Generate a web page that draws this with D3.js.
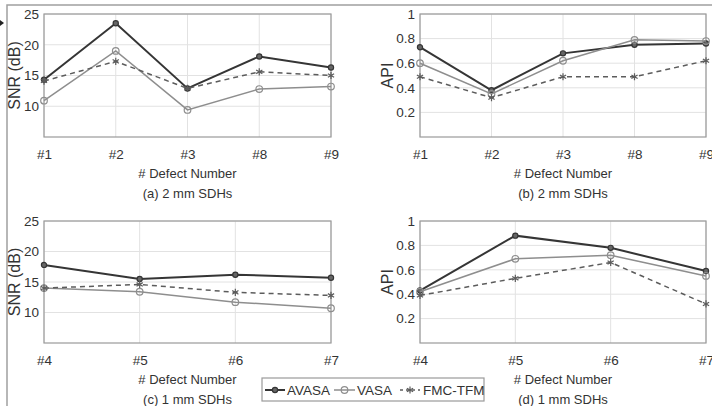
<!DOCTYPE html>
<html>
<head>
<meta charset="utf-8">
<script src="https://cdn.jsdelivr.net/npm/d3@7"></script>
<style>
  body { margin: 0; background: #fff; }
  svg { display: block; font-family: "Liberation Sans", Arial, sans-serif; }
</style>
</head>
<body>
<svg id="drawing_region"></svg>
<script>
// defect labels
const defects2mm = ['#1', '#2', '#3', '#8', '#9'];
const defects1mm = ['#4', '#5', '#6', '#7'];

// SNR (dB), 2 mm SDHs
const snr2mmAVASA = [14.3, 23.5, 12.9, 18.1, 16.3];
const snr2mmVASA  = [10.9, 19.0, 9.4, 12.8, 13.2];
const snr2mmFMC   = [14.1, 17.3, 12.9, 15.6, 15.0];

// API, 2 mm SDHs
const api2mmAVASA = [0.73, 0.38, 0.68, 0.75, 0.76];
const api2mmVASA  = [0.60, 0.35, 0.62, 0.79, 0.78];
const api2mmFMC   = [0.49, 0.32, 0.49, 0.49, 0.62];

// SNR (dB), 1 mm SDHs
const snr1mmAVASA = [17.8, 15.5, 16.2, 15.7];
const snr1mmVASA  = [14.0, 13.4, 11.7, 10.7];
const snr1mmFMC   = [14.0, 14.6, 13.3, 12.8];

// API, 1 mm SDHs
const api1mmAVASA = [0.43, 0.88, 0.78, 0.59];
const api1mmVASA  = [0.42, 0.69, 0.72, 0.55];
const api1mmFMC   = [0.39, 0.53, 0.66, 0.32];

const seriesNames = ['AVASA', 'VASA', 'FMC-TFM'];
const snrTicks = [10, 15, 20, 25];
const apiTicks = [0.2, 0.4, 0.6, 0.8, 1];

const styles = {
  'AVASA':   { color: '#353535', width: 2,   dash: null,  marker: 'dot' },
  'VASA':    { color: '#8e8e8e', width: 1.5, dash: null,  marker: 'circle' },
  'FMC-TFM': { color: '#5c5c5c', width: 1.5, dash: '5,4', marker: 'star' }
};

const svg = d3.select('#drawing_region')
  .attr('width', 712)
  .attr('height', 406);

// outer frame of the figure
svg.append('path')
  .attr('d', 'M7,406 L7,5 L712,5')
  .attr('fill', 'none')
  .attr('stroke', '#a0a0a0')
  .attr('stroke-width', 1.5);
svg.append('path')
  .attr('d', 'M0,20 L4,23 L0,26 Z')
  .attr('fill', '#222');

const panels = [
  { left: 44,  right: 331, top: 14,  bottom: 137, cats: defects2mm, domain: [5, 25], ticks: snrTicks,
    ylabel: 'SNR (dB)', ylabelOff: 24, caption: '(a) 2 mm SDHs',
    series: [snr2mmAVASA, snr2mmVASA, snr2mmFMC] },
  { left: 420, right: 706, top: 14,  bottom: 137, cats: defects2mm, domain: [0, 1], ticks: apiTicks,
    ylabel: 'API', ylabelOff: 27, caption: '(b) 2 mm SDHs',
    series: [api2mmAVASA, api2mmVASA, api2mmFMC] },
  { left: 44,  right: 331, top: 221, bottom: 343, cats: defects1mm, domain: [5, 25], ticks: snrTicks,
    ylabel: 'SNR (dB)', ylabelOff: 24, caption: '(c) 1 mm SDHs',
    series: [snr1mmAVASA, snr1mmVASA, snr1mmFMC] },
  { left: 420, right: 706, top: 221, bottom: 343, cats: defects1mm, domain: [0, 1], ticks: apiTicks,
    ylabel: 'API', ylabelOff: 27, caption: '(d) 1 mm SDHs',
    series: [api1mmAVASA, api1mmVASA, api1mmFMC] }
];

function drawMarker(g, type, x, y, color) {
  if (type === 'dot') {
    g.append('circle').attr('cx', x).attr('cy', y).attr('r', 2.6)
      .attr('fill', '#666').attr('stroke', color).attr('stroke-width', 1.2);
  } else if (type === 'circle') {
    g.append('circle').attr('cx', x).attr('cy', y).attr('r', 3.3)
      .attr('fill', 'none').attr('stroke', color).attr('stroke-width', 1.2);
  } else {
    g.append('path')
      .attr('d', d3.symbol().type(d3.symbolAsterisk).size(36)())
      .attr('transform', `translate(${x},${y})`)
      .attr('fill', 'none').attr('stroke', color).attr('stroke-width', 1.2);
  }
}

panels.forEach(p => {
  const w = p.right - p.left;
  const h = p.bottom - p.top;
  const g = svg.append('g').attr('transform', `translate(${p.left},${p.top})`);

  const xscale = d3.scalePoint().domain(p.cats).range([0, w]);
  const yscale = d3.scaleLinear().domain(p.domain).range([h, 0]);

  // grid
  g.append('g').selectAll('line')
    .data(p.ticks).join('line')
    .attr('x1', 0).attr('x2', w)
    .attr('y1', d => yscale(d)).attr('y2', d => yscale(d))
    .attr('stroke', '#e2e2e2').attr('stroke-width', 1);
  g.append('g').selectAll('line')
    .data(p.cats).join('line')
    .attr('x1', d => xscale(d)).attr('x2', d => xscale(d))
    .attr('y1', 0).attr('y2', h)
    .attr('stroke', '#e2e2e2').attr('stroke-width', 1);

  // box
  g.append('rect')
    .attr('width', w).attr('height', h)
    .attr('fill', 'none').attr('stroke', '#9a9a9a').attr('stroke-width', 1.2);

  // axes (labels only)
  const xaxis = g.append('g')
    .attr('transform', `translate(0,${h})`)
    .call(d3.axisBottom(xscale).tickSize(0).tickPadding(12));
  const yaxis = g.append('g')
    .call(d3.axisLeft(yscale).tickValues(p.ticks).tickSize(0).tickPadding(5)
      .tickFormat(d3.format('~g')));
  [xaxis, yaxis].forEach(a => {
    a.select('.domain').remove();
    a.selectAll('text')
      .attr('font-size', '13.5px')
      .attr('font-family', '"Liberation Sans", Arial, sans-serif')
      .attr('fill', '#333');
  });

  // lines
  const line = d3.line()
    .x((d, i) => xscale(p.cats[i]))
    .y(d => yscale(d));

  p.series.forEach((vals, si) => {
    const st = styles[seriesNames[si]];
    g.append('path')
      .datum(vals)
      .attr('d', line)
      .attr('fill', 'none')
      .attr('stroke', st.color)
      .attr('stroke-width', st.width)
      .attr('stroke-dasharray', st.dash);
    vals.forEach((v, i) => drawMarker(g, st.marker, xscale(p.cats[i]), yscale(v), st.color));
  });

  // labels
  g.append('text')
    .attr('transform', `translate(${-p.ylabelOff},${h / 2}) rotate(-90)`)
    .attr('text-anchor', 'middle')
    .attr('font-size', '16px')
    .attr('fill', '#333')
    .text(p.ylabel);

  g.append('text')
    .attr('x', w / 2).attr('y', h + 41)
    .attr('text-anchor', 'middle')
    .attr('font-size', '13px')
    .attr('fill', '#333')
    .text('# Defect Number');

  g.append('text')
    .attr('x', w / 2).attr('y', h + 61)
    .attr('text-anchor', 'middle')
    .attr('font-size', '13px')
    .attr('fill', '#333')
    .text(p.caption);
});

// legend
const legend = svg.append('g');
legend.append('rect')
  .attr('x', 262).attr('y', 378)
  .attr('width', 222).attr('height', 23)
  .attr('fill', '#fff').attr('stroke', '#9a9a9a').attr('stroke-width', 1.2);

const legendItems = [
  { name: 'AVASA',   x0: 265, x1: 285, tx: 287 },
  { name: 'VASA',    x0: 334, x1: 355, tx: 357 },
  { name: 'FMC-TFM', x0: 400, x1: 420, tx: 423 }
];
legendItems.forEach(it => {
  const st = styles[it.name];
  const ly = 390;
  legend.append('line')
    .attr('x1', it.x0).attr('x2', it.x1)
    .attr('y1', ly).attr('y2', ly)
    .attr('stroke', st.color).attr('stroke-width', st.width)
    .attr('stroke-dasharray', st.dash ? '3,3' : null);
  drawMarker(legend, st.marker, (it.x0 + it.x1) / 2, ly, st.color);
  legend.append('text')
    .attr('x', it.tx).attr('y', ly + 5)
    .attr('font-size', '13.5px')
    .attr('fill', '#333')
    .text(it.name);
});
</script>
</body>
</html>
